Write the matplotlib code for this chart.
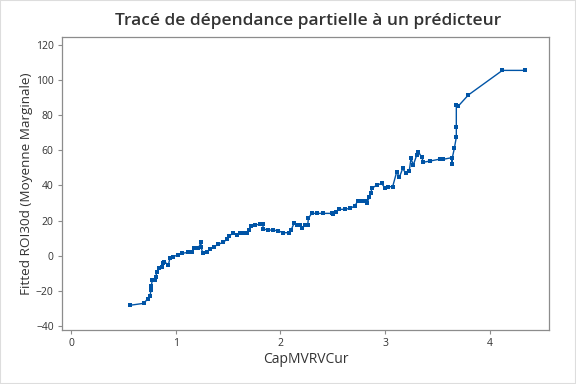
import matplotlib
matplotlib.use('Agg')
import matplotlib.pyplot as plt

# Partial dependence values
cap_mvrv = [0.566, 0.697, 0.732, 0.755, 0.764, 0.767, 0.777, 0.799, 0.812, 0.818,
            0.840, 0.866, 0.882, 0.891, 0.930, 0.946, 0.977, 1.025, 1.064, 1.121,
            1.153, 1.175, 1.216, 1.242, 1.242, 1.258, 1.296, 1.328, 1.366, 1.407,
            1.455, 1.487, 1.512, 1.550, 1.583, 1.614, 1.646, 1.678, 1.700, 1.719,
            1.757, 1.805, 1.831, 1.837, 1.885, 1.932, 1.980, 2.028, 2.082, 2.101,
            2.130, 2.155, 2.187, 2.209, 2.235, 2.261, 2.267, 2.299, 2.347, 2.410,
            2.490, 2.506, 2.531, 2.563, 2.617, 2.665, 2.713, 2.738, 2.776, 2.818,
            2.830, 2.849, 2.865, 2.872, 2.920, 2.967, 2.999, 3.031, 3.072, 3.111,
            3.136, 3.168, 3.197, 3.231, 3.247, 3.269, 3.302, 3.317, 3.350, 3.365,
            3.429, 3.524, 3.556, 3.636, 3.642, 3.642, 3.661, 3.680, 3.680, 3.680,
            3.699, 3.795, 4.120, 4.339]
roi30d = [-28.2, -27.1, -24.5, -22.9, -19.5, -17.2, -13.8, -13.8, -11.9, -9.1,
          -7.2, -6.2, -4.3, -3.4, -5.3, -1.1, -0.6, 0.6, 1.4, 1.9,
          1.9, 4.2, 4.2, 7.6, 4.8, 1.7, 2.3, 3.6, 5.1, 6.5,
          7.6, 9.3, 11.2, 13.1, 11.8, 13.1, 12.7, 12.7, 14.6, 16.9,
          17.5, 17.9, 17.9, 15.2, 14.6, 14.6, 14.1, 13.1, 13.1, 14.5,
          18.4, 17.5, 17.5, 15.6, 17.5, 17.5, 21.3, 24.1, 24.1, 24.1,
          24.1, 23.6, 25.0, 26.4, 26.4, 27.0, 28.3, 31.3, 31.1, 31.1,
          30.2, 33.6, 35.5, 38.4, 40.1, 41.2, 38.4, 39.3, 39.3, 47.8,
          44.6, 49.7, 46.9, 48.4, 55.4, 51.6, 57.3, 59.2, 56.0, 53.2,
          53.9, 55.0, 54.9, 55.8, 52.0, 55.8, 61.1, 67.4, 73.1, 85.8,
          85.2, 91.5, 105.5, 105.5]

x_ticks = [0, 1, 2, 3, 4]
y_ticks = [-40, -20, 0, 20, 40, 60, 80, 100, 120]

BLUE = '#0054A6'
TEXT = '#333333'
SPINE = '#8C8C8C'

plt.rcParams['font.family'] = ['Open Sans', 'DejaVu Sans']

fig = plt.figure(figsize=(5.76, 3.84), dpi=100)
ax = fig.add_axes([0.1076, 0.1406, 0.8455, 0.763])

ax.plot(cap_mvrv, roi30d, color=BLUE, lw=1.0, marker='s', markersize=2.7,
        markeredgewidth=0)

ax.set_xlim(-0.086, 4.565)
ax.set_ylim(-42.3, 124.5)
ax.set_xticks(x_ticks)
ax.set_yticks(y_ticks)

for s in ax.spines.values():
    s.set_color(SPINE)
    s.set_linewidth(0.9)
ax.tick_params(colors=SPINE, labelcolor=TEXT, labelsize=7.5, length=3, width=0.8,
               pad=3)

ax.set_xlabel('CapMVRVCur', fontsize=10, color=TEXT, labelpad=2)
ax.set_ylabel('Fitted ROI30d (Moyenne Marginale)', fontsize=9.7, color=TEXT)
ax.yaxis.set_label_coords(-0.059, 0.5)
fig.text(0.535, 0.945, 'Tracé de dépendance partielle à un prédicteur',
         ha='center', va='center', fontsize=12.5, color=TEXT, fontweight='semibold')

# light frame around the whole figure
fig.patches.append(plt.Rectangle((0, 0), 1, 1, transform=fig.transFigure,
                                 fill=False, edgecolor='#DDDDDD', lw=1.5))

fig.savefig('out.png', dpi=100, facecolor='white')
